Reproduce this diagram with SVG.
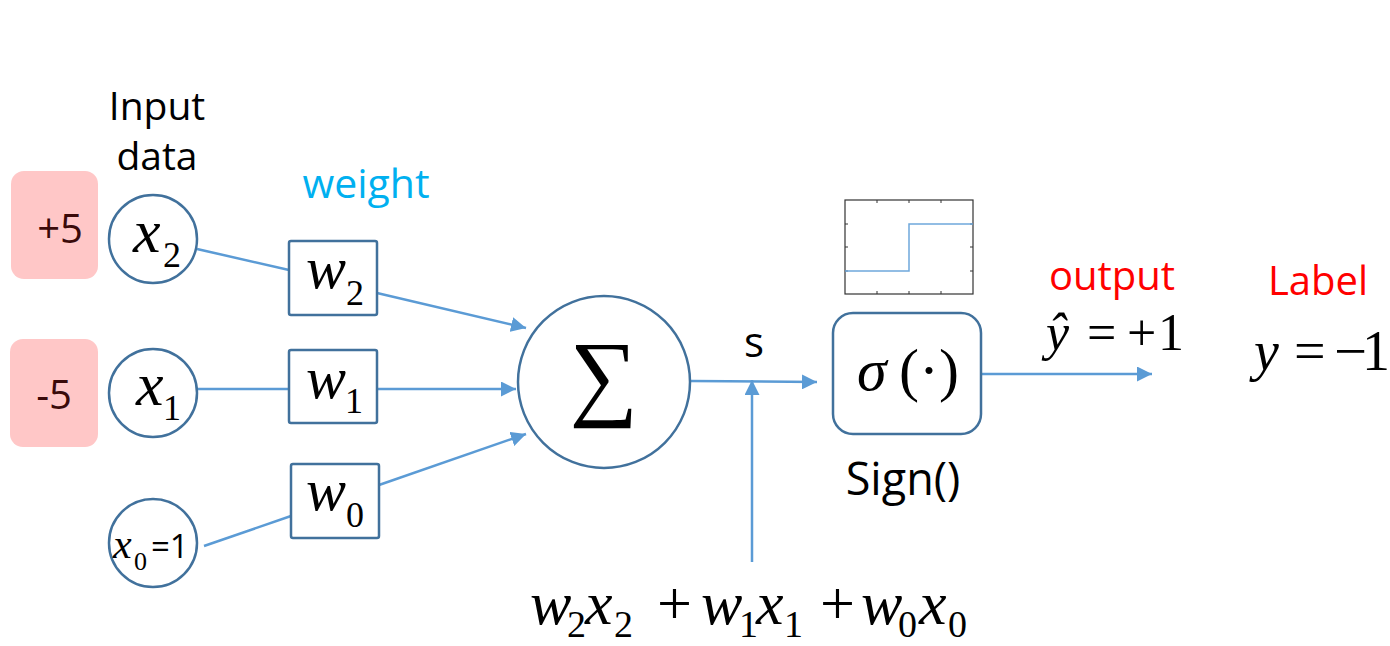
<svg xmlns="http://www.w3.org/2000/svg" width="1390" height="646" viewBox="0 0 1390 646">
<defs>
<style>
.pink{fill:#FFC7C7;}
.node{fill:#fff;stroke:#41719C;stroke-width:2.5;}
.con{stroke:#5B9BD5;stroke-width:2.5;fill:none;}
.math{font-family:"Liberation Serif",serif;font-style:italic;fill:#000;}
.rm{font-family:"Liberation Serif",serif;fill:#000;}
.sans{font-family:"Open Sans","Liberation Sans",sans-serif;}
.num{font-family:"Open Sans","Liberation Sans",sans-serif;fill:#3A0A0A;text-anchor:middle;}
</style>
<marker id="arr" viewBox="0 0 10 10" refX="10" refY="5" markerWidth="6" markerHeight="6" markerUnits="strokeWidth" orient="auto">
<path d="M0,0 L10,5 L0,10 z" fill="#5B9BD5"/>
</marker>
</defs>
<rect width="1390" height="646" fill="#fff"/>

<text class="sans" x="157" y="120" font-size="39" text-anchor="middle">Input</text>
<text class="sans" x="157" y="170" font-size="39" text-anchor="middle">data</text>
<text class="sans" x="366" y="198" font-size="41" text-anchor="middle" fill="#00B0F0">weight</text>

<g id="connectors">
<line class="con" x1="197" y1="249" x2="289" y2="270"/>
<line class="con" x1="197" y1="389" x2="289" y2="389"/>
<line class="con" x1="204" y1="546" x2="291" y2="516"/>
<line class="con" x1="377" y1="293" x2="526" y2="328" marker-end="url(#arr)"/>
<line class="con" x1="377" y1="389" x2="516" y2="389" marker-end="url(#arr)"/>
<line class="con" x1="379" y1="485" x2="526" y2="434" marker-end="url(#arr)"/>
<line class="con" x1="691" y1="381" x2="817" y2="382" marker-end="url(#arr)"/>
<line class="con" x1="752" y1="562" x2="752" y2="380" marker-end="url(#arr)"/>
<line class="con" x1="981" y1="374" x2="1152" y2="374" marker-end="url(#arr)"/>
</g>

<g id="in2">
<rect class="pink" x="11" y="171" width="87" height="108" rx="13"/>
<text class="num" x="60" y="243" font-size="40">+5</text>
</g>
<g id="in1">
<rect class="pink" x="10" y="339" width="88" height="108" rx="13"/>
<text class="num" x="54" y="409" font-size="40">-5</text>
</g>

<g id="x2">
<circle class="node" cx="153" cy="239" r="44"/>
<text class="math" x="133" y="252" font-size="62">x</text>
<text class="rm" x="163" y="267" font-size="36">2</text>
</g>
<g id="x1">
<circle class="node" cx="153" cy="393" r="44"/>
<text class="math" x="136" y="405" font-size="62">x</text>
<text class="rm" x="163" y="420" font-size="36">1</text>
</g>
<g id="x0">
<circle class="node" cx="153" cy="543" r="44"/>
<text class="math" x="113" y="558" font-size="42">x</text>
<text class="rm" x="134" y="570" font-size="26">0</text>
<text class="sans" x="151" y="558" font-size="33">=1</text>
</g>

<g id="w2">
<rect class="node" x="289" y="241" width="88" height="74" rx="2"/>
<text class="math" x="306" y="288" font-size="60">w</text>
<text class="rm" x="346" y="305" font-size="36">2</text>
</g>
<g id="w1">
<rect class="node" x="289" y="350" width="88" height="73" rx="2"/>
<text class="math" x="306" y="398" font-size="60">w</text>
<text class="rm" x="345" y="413" font-size="36">1</text>
</g>
<g id="w0">
<rect class="node" x="291" y="464" width="88" height="74" rx="2"/>
<text class="math" x="306" y="510" font-size="60">w</text>
<text class="rm" x="346" y="527" font-size="36">0</text>
</g>

<g id="sum">
<circle class="node" cx="604" cy="382" r="86"/>
<text class="rm" x="604" y="408" font-size="96" text-anchor="middle">∑</text>
</g>

<text class="sans" x="754" y="357" font-size="42" text-anchor="middle">s</text>

<g id="sign">
<rect class="node" x="833" y="313" width="148" height="121" rx="20"/>
<text class="math" x="857" y="390" font-size="60">σ</text>
<text class="rm" x="899" y="390" font-size="60">(·)</text>
</g>
<text class="sans" x="903" y="495" font-size="45" text-anchor="middle">Sign()</text>

<g id="plot">
<rect x="845" y="200" width="128" height="94" fill="#fff" stroke="#333" stroke-width="1.2"/>
<path d="M877,200v3M909,200v3M941,200v3M877,294v-3M909,294v-3M941,294v-3M845,224h3M845,247h3M845,271h3M973,224h-3M973,247h-3M973,271h-3" stroke="#333" stroke-width="1"/>
<path d="M845,271H909V224H973" stroke="#6FA8DC" stroke-width="1.5" fill="none"/>
</g>

<text class="sans" x="1112" y="290" font-size="40" text-anchor="middle" fill="#FF0000">output</text>
<text class="sans" x="1318" y="295" font-size="40" text-anchor="middle" fill="#FF0000">Label</text>

<g id="yhat">
<text class="math" x="1046" y="350" font-size="52">ŷ</text>
<text class="rm" x="1087" y="350" font-size="52">=</text>
<text class="rm" x="1127" y="350" font-size="52">+</text>
<text class="rm" x="1158" y="350" font-size="52">1</text>
</g>
<g id="ylabel">
<text class="math" x="1254" y="370" font-size="56">y</text>
<text class="rm" x="1294" y="370" font-size="56">=</text>
<text class="rm" x="1334" y="370" font-size="56" textLength="33" lengthAdjust="spacingAndGlyphs">−</text>
<text class="rm" x="1362" y="370" font-size="56">1</text>
</g>

<g id="formula">
<text class="math" x="530" y="624" font-size="62">w</text>
<text class="rm" x="567" y="637" font-size="38">2</text>
<text class="math" x="585" y="624" font-size="62">x</text>
<text class="rm" x="614" y="637" font-size="38">2</text>
<text class="rm" x="657" y="624" font-size="62">+</text>
<text class="math" x="701" y="624" font-size="62">w</text>
<text class="rm" x="739" y="637" font-size="38">1</text>
<text class="math" x="756" y="624" font-size="62">x</text>
<text class="rm" x="784" y="637" font-size="38">1</text>
<text class="rm" x="820" y="624" font-size="62">+</text>
<text class="math" x="861" y="624" font-size="62">w</text>
<text class="rm" x="898" y="637" font-size="38">0</text>
<text class="math" x="919" y="624" font-size="62">x</text>
<text class="rm" x="948" y="637" font-size="38">0</text>
</g>
</svg>
